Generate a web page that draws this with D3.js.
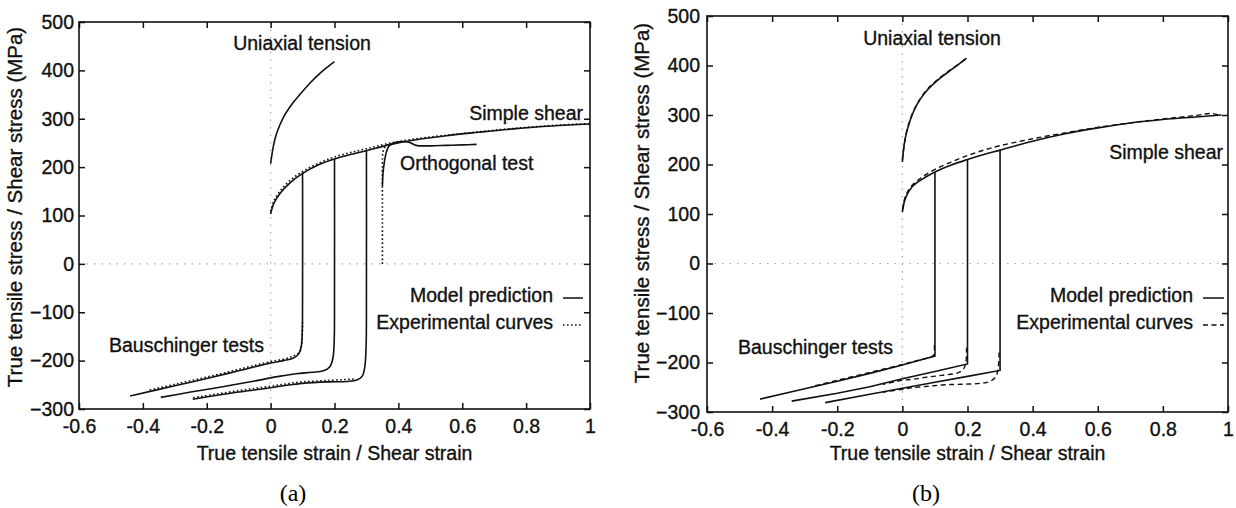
<!DOCTYPE html>
<html>
<head>
<meta charset="utf-8">
<script src="https://cdn.jsdelivr.net/npm/d3@7"></script>
<style>
  html, body { margin: 0; padding: 0; background: #fff; }
  svg { display: block; font-family: "Liberation Sans", Arial, Helvetica, sans-serif; }
</style>
</head>
<body>
<div id="chart"></div>
<script>
// axis ticks (shared by both panels)
const xTicks = [-0.6, -0.4, -0.2, 0, 0.2, 0.4, 0.6, 0.8, 1];
const yTicks = [-300, -200, -100, 0, 100, 200, 300, 400, 500];
const xTickLabels = ['-0.6', '-0.4', '-0.2', '0', '0.2', '0.4', '0.6', '0.8', '1'];

// panel (a): [strain, stress MPa]
const aUniaxialModel = [[0,207],[0.01,248],[0.02,272],[0.04,303],[0.07,333],[0.094,352],[0.125,375],[0.156,395],[0.18,408],[0.2,418]];
const aShearModel = [[0,103],[0.01,125],[0.03,146],[0.06,167],[0.1,187],[0.15,205],[0.2,217],[0.25,226],[0.3,234],[0.37,246],[0.45,256],[0.55,265],[0.65,272],[0.76,279],[0.88,285],[1.0,289]];
const aShearExp = [[0,108],[0.01,130],[0.03,151],[0.06,172],[0.1,191],[0.15,208],[0.2,221],[0.25,230],[0.3,238],[0.37,249],[0.45,258],[0.55,266],[0.65,273],[0.76,280],[0.88,286],[1.0,290]];
const aBausch1Model = [[0.1,189],[0.1,-60],[0.099,-140],[0.096,-170],[0.088,-186],[0.07,-195],[0.04,-200],[0,-205],[-0.1,-221],[-0.2,-237],[-0.3,-252],[-0.44,-273]];
const aBausch1Exp = [[0.1,-120],[0.097,-168],[0.09,-183],[0.07,-191],[0.04,-197],[0,-202],[-0.1,-218],[-0.2,-234],[-0.3,-249],[-0.38,-261]];
const aBausch2Model = [[0.2,217],[0.2,-60],[0.199,-160],[0.195,-195],[0.185,-213],[0.165,-221],[0.13,-224],[0.08,-227],[0.03,-232],[-0.05,-242],[-0.15,-254],[-0.25,-265],[-0.344,-276]];
const aBausch3Model = [[0.3,234],[0.3,-60],[0.299,-170],[0.295,-212],[0.287,-232],[0.27,-240],[0.24,-243],[0.18,-244],[0.1,-247],[0.05,-251],[0,-256],[-0.1,-265],[-0.244,-280]];
const aBausch3Exp = [[0.26,-238],[0.18,-241],[0.1,-244],[0.05,-248],[0,-253],[-0.1,-262],[-0.244,-277]];
const aOrthoModel = [[0.35,160],[0.352,188],[0.356,210],[0.362,230],[0.37,243],[0.385,250],[0.41,253],[0.435,251],[0.455,245],[0.5,244],[0.55,245],[0.6,246],[0.645,247]];
const aOrthoExp = [[0.35,0],[0.35,120],[0.35,200],[0.352,232],[0.36,243],[0.38,249]];

// panel (b)
const bUniaxialModel = [[0,205],[0.005,238],[0.014,268],[0.035,308],[0.055,332],[0.076,350],[0.117,375],[0.158,395],[0.197,415]];
const bUniaxialExp = [[0,210],[0.006,240],[0.015,272],[0.036,311],[0.056,334],[0.078,353],[0.118,377],[0.16,397],[0.195,413]];
const bShearModel = [[0,104],[0.01,133],[0.03,155],[0.06,170],[0.1,185],[0.15,199],[0.2,210],[0.25,220],[0.3,229],[0.4,247],[0.5,262],[0.6,274],[0.7,284],[0.8,291],[0.9,296],[0.98,300]];
const bShearExp = [[0,108],[0.01,137],[0.03,158],[0.06,174],[0.1,190],[0.15,205],[0.2,218],[0.25,229],[0.3,238],[0.4,252],[0.5,264],[0.6,275],[0.7,284],[0.8,292],[0.9,299],[0.95,303],[0.98,298]];
const bBausch1Model = [[0.1,185],[0.1,-187],[0.05,-196],[0,-205],[-0.1,-222],[-0.2,-238],[-0.3,-253],[-0.437,-274]];
const bBausch1Exp = [[0.098,-165],[0.096,-185],[0.08,-190],[0.04,-197],[0,-204],[-0.1,-220],[-0.2,-236],[-0.28,-249]];
const bBausch2Model = [[0.2,210],[0.2,-203],[0.1,-218],[0,-233],[-0.1,-249],[-0.2,-262],[-0.34,-278]];
const bBausch2Exp = [[0.197,-170],[0.195,-200],[0.187,-214],[0.17,-221],[0.12,-226],[0.07,-230],[0.03,-234],[0,-236],[-0.06,-244]];
const bBausch3Model = [[0.3,229],[0.3,-216],[0.2,-228],[0.1,-240],[0,-252],[-0.1,-264],[-0.237,-281]];
const bBausch3Exp = [[0.297,-180],[0.294,-212],[0.287,-228],[0.27,-238],[0.24,-242],[0.18,-244],[0.13,-245],[0.08,-248],[0.03,-251],[0,-254],[-0.06,-260]];

const W = 1236, H = 508;
const FS = 19.5;

const svg = d3.select('#chart').append('svg')
    .attr('width', W).attr('height', H)
    .attr('viewBox', `0 0 ${W} ${H}`);

// scanned text looks a bit heavier than plain regular
function inkText(sel) {
    return sel.attr('fill', '#111').attr('stroke', '#111').attr('stroke-width', 0.35);
}

function drawPanel(p) {
    const x = d3.scaleLinear().domain([-0.6, 1]).range([p.left, p.right]);
    const y = d3.scaleLinear().domain([-300, 500]).range([p.bottom, p.top]);
    const g = svg.append('g');

    // faint dotted zero lines
    g.append('line')
        .attr('x1', p.left).attr('x2', p.right).attr('y1', y(0)).attr('y2', y(0))
        .attr('stroke', '#a8a8a8').attr('stroke-width', 1.2).attr('stroke-dasharray', '1.5,6');
    g.append('line')
        .attr('x1', x(0)).attr('x2', x(0)).attr('y1', p.top).attr('y2', p.bottom)
        .attr('stroke', '#a8a8a8').attr('stroke-width', 1.2).attr('stroke-dasharray', '1.5,6');

    const styleAxis = sel => {
        sel.attr('font-size', null).attr('font-family', null);
        sel.select('.domain').remove();
        sel.selectAll('.tick line').attr('stroke', '#111').attr('stroke-width', 1.5);
        sel.selectAll('.tick text').call(inkText).style('font-size', FS + 'px');
    };

    g.append('g').attr('transform', `translate(0,${p.bottom})`)
        .call(d3.axisBottom(x).tickValues(xTicks).tickFormat((d, i) => xTickLabels[i])
            .tickSizeInner(-6).tickSizeOuter(0).tickPadding(10))
        .call(styleAxis);
    g.append('g').attr('transform', `translate(0,${p.top})`)
        .call(d3.axisTop(x).tickValues(xTicks).tickFormat('').tickSizeInner(-6).tickSizeOuter(0))
        .call(styleAxis);
    g.append('g').attr('transform', `translate(${p.left},0)`)
        .call(d3.axisLeft(y).tickValues(yTicks).tickSizeInner(-6).tickSizeOuter(0).tickPadding(p.yPad))
        .call(styleAxis);
    g.append('g').attr('transform', `translate(${p.right},0)`)
        .call(d3.axisRight(y).tickValues(yTicks).tickFormat('').tickSizeInner(-6).tickSizeOuter(0))
        .call(styleAxis);

    g.append('rect')
        .attr('x', p.left).attr('y', p.top)
        .attr('width', p.right - p.left).attr('height', p.bottom - p.top)
        .attr('fill', 'none').attr('stroke', '#111').attr('stroke-width', 1.6);

    const smooth = d3.line().x(d => x(d[0])).y(d => y(d[1])).curve(d3.curveCatmullRom.alpha(0.5));
    const straight = d3.line().x(d => x(d[0])).y(d => y(d[1]));
    const pathOf = c => (p.sharp.includes(c) ? straight : smooth)(c);

    p.exp.forEach(c => {
        g.append('path').attr('d', pathOf(c))
            .attr('fill', 'none').attr('stroke', '#111')
            .attr('stroke-width', p.expWidth).attr('stroke-dasharray', p.expDash);
    });
    p.model.forEach(c => {
        g.append('path').attr('d', pathOf(c))
            .attr('fill', 'none').attr('stroke', '#111').attr('stroke-width', 1.6);
    });

    // annotations
    p.labels.forEach(l => {
        g.append('text').attr('x', l.x).attr('y', l.y)
            .attr('text-anchor', l.anchor || 'start')
            .call(inkText).style('font-size', FS + 'px')
            .text(l.text);
    });

    // legend samples
    g.append('line').attr('x1', p.legX0).attr('x2', p.legX1).attr('y1', 298).attr('y2', 298)
        .attr('stroke', '#111').attr('stroke-width', 1.5);
    g.append('line').attr('x1', p.legX0).attr('x2', p.legX1).attr('y1', 325).attr('y2', 325)
        .attr('stroke', '#111').attr('stroke-width', p.expWidth).attr('stroke-dasharray', p.expDash);

    // axis titles
    g.append('text')
        .attr('transform', `translate(${p.yLabelX},${p.yLabelY}) rotate(-90)`)
        .attr('text-anchor', 'middle').call(inkText)
        .style('font-size', '20.5px')
        .text('True tensile stress / Shear stress (MPa)');
    g.append('text')
        .attr('x', (p.left + p.right) / 2).attr('y', 460)
        .attr('text-anchor', 'middle').call(inkText)
        .style('font-size', FS + 'px')
        .text('True tensile strain / Shear strain');
    g.append('text')
        .attr('x', p.capX).attr('y', 501)
        .attr('text-anchor', 'middle').attr('fill', '#000')
        .style('font-family', '"Liberation Serif", "Times New Roman", serif')
        .style('font-size', '24px')
        .text(p.caption);
}

drawPanel({
    left: 79, right: 590, top: 22, bottom: 409, yPad: 5,
    yLabelX: 22, yLabelY: 207, capX: 293, caption: '(a)',
    model: [aUniaxialModel, aShearModel, aBausch1Model, aBausch2Model, aBausch3Model, aOrthoModel],
    exp: [aShearExp, aBausch1Exp, aBausch3Exp, aOrthoExp],
    sharp: [],
    expDash: '1.6,2.4', expWidth: 1.6,
    legX0: 563, legX1: 583,
    labels: [
        { text: 'Uniaxial tension', x: 302, y: 50, anchor: 'middle' },
        { text: 'Simple shear', x: 583, y: 120, anchor: 'end' },
        { text: 'Orthogonal test', x: 400, y: 170 },
        { text: 'Model prediction', x: 553, y: 302, anchor: 'end' },
        { text: 'Experimental curves', x: 553, y: 329, anchor: 'end' },
        { text: 'Bauschinger tests', x: 109, y: 352 }
    ]
});

drawPanel({
    left: 707, right: 1228, top: 16, bottom: 412, yPad: 7,
    yLabelX: 649, yLabelY: 203, capX: 926, caption: '(b)',
    model: [bUniaxialModel, bShearModel, bBausch1Model, bBausch2Model, bBausch3Model],
    exp: [bUniaxialExp, bShearExp, bBausch1Exp, bBausch2Exp, bBausch3Exp],
    sharp: [bBausch1Model, bBausch2Model, bBausch3Model],
    expDash: '5,3.5', expWidth: 1.4,
    legX0: 1203, legX1: 1224,
    labels: [
        { text: 'Uniaxial tension', x: 932, y: 45, anchor: 'middle' },
        { text: 'Simple shear', x: 1223, y: 159, anchor: 'end' },
        { text: 'Model prediction', x: 1193, y: 302, anchor: 'end' },
        { text: 'Experimental curves', x: 1193, y: 329, anchor: 'end' },
        { text: 'Bauschinger tests', x: 738, y: 354 }
    ]
});
</script>
</body>
</html>
